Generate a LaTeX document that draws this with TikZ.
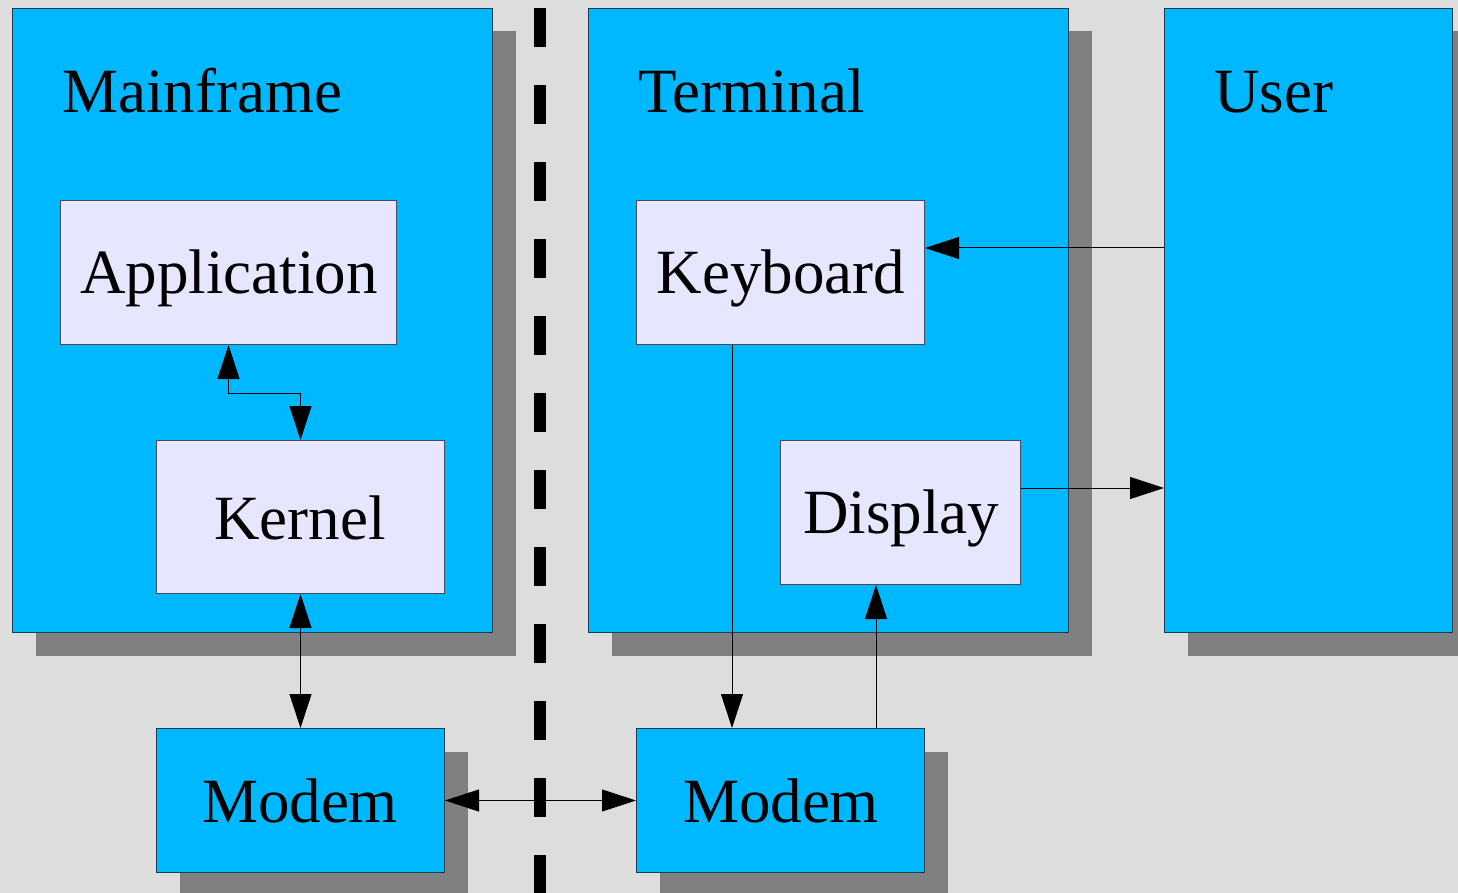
\documentclass[tikz,border=0pt]{standalone}
\usepackage{fontspec}
\setmainfont{Liberation Serif}
\usetikzlibrary{arrows.meta,shadows}
\definecolor{bgcol}{HTML}{DDDDDD}
\definecolor{boxblue}{HTML}{00B8FF}
\definecolor{boxlav}{HTML}{E6E6FF}
\definecolor{shadowgray}{HTML}{808080}
\definecolor{edgecol}{HTML}{1E3C50}
\definecolor{lavedge}{HTML}{4A4A55}
\tikzset{
  bluebox/.style={draw=edgecol, line width=1pt, fill=boxblue, anchor=north west, inner sep=0pt,
    drop shadow={shadow xshift=23pt, shadow yshift=-23pt, fill=shadowgray, opacity=1}},
  lavbox/.style={draw=lavedge, line width=1pt, fill=boxlav, anchor=north west, inner sep=0pt},
  bigtext/.style={font=\fontsize{63}{75}\selectfont},
  title/.style={bigtext, anchor=base west, inner sep=0pt},
  inlabel/.style={bigtext, anchor=base, inner sep=0pt},
  conn/.style={line width=1pt, draw=black},
  tip/.style={-{Triangle[length=34pt,width=22pt]}},
  bitip/.style={{Triangle[length=34pt,width=22pt]}-{Triangle[length=34pt,width=22pt]}},
}
\begin{document}
\begin{tikzpicture}[x=1pt,y=-1pt]
\fill[bgcol] (0,0) rectangle (1458,893);
\useasboundingbox (0,0) rectangle (1458,893);

% big containers
\node[bluebox, minimum width=480pt, minimum height=624pt] (mf) at (12,8) {};
\node[bluebox, minimum width=480pt, minimum height=624pt] (term) at (588,8) {};
\node[bluebox, minimum width=288pt, minimum height=624pt] (user) at (1164,8) {};

\node[title] (mft) at (62,113) {Mainframe};
\node[title] (termt) at (638,113) {Terminal};
\node[title] (usert) at (1214,113) {User};

% inner boxes
\node[lavbox, minimum width=336pt, minimum height=144pt] (app) at (60,200) {};
\node[lavbox, minimum width=288pt, minimum height=153pt] (kern) at (156,440) {};
\node[lavbox, minimum width=288pt, minimum height=144pt] (kb) at (636,200) {};
\node[lavbox, minimum width=240pt, minimum height=144pt] (disp) at (780,440) {};

\node[inlabel] (appt) at (229,293) {Application};
\node[inlabel] (kernt) at (300,539) {Kernel};
\node[inlabel] (kbt) at (781,293) {Keyboard};
\node[inlabel] (dispt) at (901,533) {Display};

% modems
\node[bluebox, minimum width=288pt, minimum height=144pt] (mleft) at (156,728) {};
\node[bluebox, minimum width=288pt, minimum height=144pt] (mright) at (636,728) {};
\node[inlabel] (mleftt) at (300,822) {Modem};
\node[inlabel] (mrightt) at (781,822) {Modem};

% dashed divider
\coordinate (dtop) at (540,8);
\coordinate (dbot) at (540,900);
\draw[line width=12pt, dash pattern=on 39pt off 38pt] (dtop) -- (dbot);

% helper coordinates
\coordinate (kbx) at (732,0);
\coordinate (dx) at (876,0);
\coordinate (ky) at (0,248);
\coordinate (dy) at (0,488);

% connectors
\draw[conn, bitip] (app.south) -- ++(0,48) -| (kern.north);
\draw[conn, bitip] (kern.south) -- (mleft.north);
\draw[conn, bitip] (mleft.east) -- (mright.west);
\draw[conn, tip] (kb.south -| kbx) -- (mright.north -| kbx);
\draw[conn, tip] (mright.north -| dx) -- (disp.south -| dx);
\draw[conn, tip] (user.west |- ky) -- (kb.east |- ky);
\draw[conn, tip] (disp.east |- dy) -- (user.west |- dy);
\end{tikzpicture}
\end{document}
